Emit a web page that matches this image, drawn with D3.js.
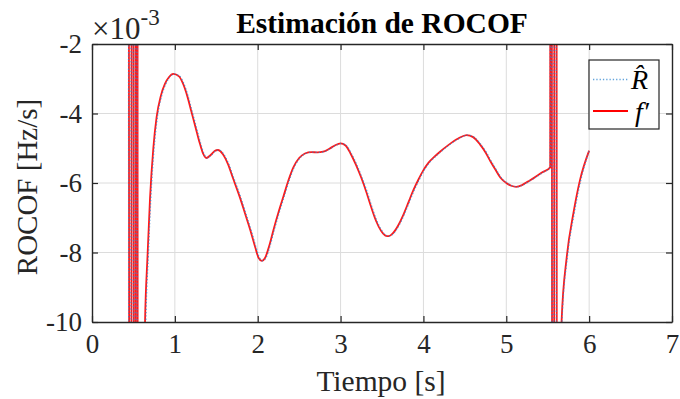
<!DOCTYPE html>
<html>
<head>
<meta charset="utf-8">
<script src="https://cdn.jsdelivr.net/npm/d3@7"></script>
<style>
  html, body { margin: 0; padding: 0; background: #fff; }
  svg { display: block; }
  text { font-family: "Liberation Serif", "Times New Roman", serif; fill: #262626; }
</style>
</head>
<body>
<svg id="chart" width="680" height="399"></svg>
<script>
// ROCOF estimate (R-hat) vs. frequency derivative f', values in units of 1e-3 Hz/s
const time = [0.435,0.465,0.49,0.515,0.545,0.555,0.60,0.62,
  0.64,0.67,0.70,0.74,0.78,0.83,0.88,0.93,0.98,
  1.05,1.10,1.15,1.20,1.25,1.30,1.34,1.38,1.43,1.48,1.52,
  1.58,1.64,1.70,1.79,1.85,1.91,1.97,2.01,2.05,2.09,2.14,2.19,2.25,2.31,2.37,2.43,2.50,2.57,2.65,2.72,2.79,2.86,2.93,3.00,
  3.06,3.12,3.19,3.25,3.31,3.37,3.43,3.49,3.55,3.58,3.63,3.70,3.76,3.82,3.88,3.94,4.00,
  4.06,4.13,4.20,4.30,4.42,4.52,4.60,4.68,4.75,4.81,4.87,4.93,5.00,5.06,5.12,5.19,5.26,5.33,5.43,5.53,
  5.535,5.565,5.595,5.62,5.65,5.667,5.73,5.81,5.89,6.00];

const fPrime = [50,-50,50,-50,50,-50,-20,-13,
  -10,-8.1,-6.45,-5.0,-4.1,-3.5,-3.15,-2.95,-2.86,
  -2.93,-3.15,-3.5,-3.95,-4.4,-4.85,-5.15,-5.28,-5.2,-5.08,-5.05,
  -5.17,-5.45,-5.85,-6.45,-6.9,-7.35,-7.85,-8.15,-8.24,-8.15,-7.8,-7.35,-6.85,-6.39,-5.93,-5.55,-5.28,-5.15,-5.11,-5.12,-5.1,-5.02,-4.92,-4.86,
  -4.92,-5.15,-5.5,-5.85,-6.25,-6.7,-7.1,-7.38,-7.52,-7.53,-7.45,-7.2,-6.9,-6.55,-6.2,-5.9,-5.63,
  -5.42,-5.25,-5.1,-4.91,-4.72,-4.62,-4.68,-4.88,-5.12,-5.38,-5.62,-5.85,-6.0,-6.08,-6.11,-6.06,-5.96,-5.86,-5.7,-5.55,
  50,-50,50,-50,-20,-10,-8.12,-6.87,-5.91,-5.07];

const timeR = [0.43,0.46,0.485,0.51,0.54,0.55,0.61,0.63,
  0.65,0.68,0.71,0.75,0.79,0.84,0.89,0.94,0.99,
  1.06,1.11,1.16,1.21,1.26,1.31,1.35,1.39,1.44,1.49,1.53,
  1.59,1.65,1.71,1.80,1.86,1.92,1.98,2.02,2.06,2.10,2.15,2.20,2.26,2.32,2.38,2.44,2.51,2.58,2.66,2.73,2.80,2.87,2.94,3.01,
  3.07,3.13,3.20,3.26,3.32,3.38,3.44,3.50,3.56,3.59,3.64,3.71,3.77,3.83,3.89,3.95,4.01,
  4.07,4.14,4.21,4.31,4.43,4.53,4.61,4.69,4.76,4.82,4.88,4.94,5.01,5.07,5.13,5.20,5.27,5.34,5.44,5.53,
  5.535,5.56,5.59,5.615,5.655,5.672,5.738,5.82,5.90,6.00];

const rHat = [50,-50,50,-50,50,-50,-20,-13,
  -10,-8.1,-6.45,-5.0,-4.1,-3.5,-3.15,-2.95,-2.86,
  -2.93,-3.15,-3.5,-3.95,-4.4,-4.85,-5.15,-5.28,-5.2,-5.08,-5.05,
  -5.17,-5.45,-5.85,-6.45,-6.9,-7.35,-7.85,-8.15,-8.24,-8.15,-7.8,-7.35,-6.85,-6.39,-5.93,-5.55,-5.28,-5.15,-5.11,-5.12,-5.1,-5.02,-4.92,-4.86,
  -4.92,-5.15,-5.5,-5.85,-6.25,-6.7,-7.1,-7.38,-7.52,-7.53,-7.45,-7.2,-6.9,-6.55,-6.2,-5.9,-5.63,
  -5.42,-5.25,-5.1,-4.91,-4.72,-4.62,-4.68,-4.88,-5.12,-5.38,-5.62,-5.85,-6.0,-6.08,-6.11,-6.06,-5.96,-5.86,-5.7,-5.55,
  50,-50,50,-50,-20,-10,-8.12,-6.87,-5.91,-5.07];

const xTicks = [0,1,2,3,4,5,6,7];
const yTicks = [-10,-8,-6,-4,-2];
const titleText = "Estimación de ROCOF";
const xLabel = "Tiempo [s]";
const yLabel = "ROCOF [Hz/s]";

const W = 680, H = 399;
const m = { left: 92, right: 8, top: 44, bottom: 77 };
const iw = W - m.left - m.right, ih = H - m.top - m.bottom;
const axisColor = "#262626";

const svg = d3.select("#chart");
const g = svg.append("g").attr("transform", `translate(${m.left},${m.top})`);

const x = d3.scaleLinear().domain([0, 7]).range([0, iw]);
const y = d3.scaleLinear().domain([-10, -2]).range([ih, 0]);

// grid
g.append("g").selectAll("line").data(xTicks.slice(1, -1)).join("line")
  .attr("x1", d => x(d)).attr("x2", d => x(d)).attr("y1", 0).attr("y2", ih)
  .attr("stroke", "#dcdcdc").attr("stroke-width", 1);
g.append("g").selectAll("line").data(yTicks.slice(1, -1)).join("line")
  .attr("y1", d => y(d)).attr("y2", d => y(d)).attr("x1", 0).attr("x2", iw)
  .attr("stroke", "#dcdcdc").attr("stroke-width", 1);

// data
g.append("clipPath").attr("id", "plotClip").append("rect")
  .attr("x", 0).attr("y", 0).attr("width", iw).attr("height", ih);
const plot = g.append("g").attr("clip-path", "url(#plotClip)");

const line = d3.line().x(d => x(d[0])).y(d => y(d[1])).curve(d3.curveMonotoneX);
const rData = timeR.map((t, i) => [t, rHat[i]]);
const fData = time.map((t, i) => [t, fPrime[i]]);

plot.append("path").datum(fData).attr("d", line)
  .attr("fill", "none").attr("stroke", "#ff0000").attr("stroke-width", 1.8).attr("stroke-opacity", 0.9);
plot.append("path").datum(rData).attr("d", line)
  .attr("fill", "none").attr("stroke", "#2f86d0").attr("stroke-width", 1.3)
  .attr("stroke-dasharray", "1.3,2").attr("stroke-opacity", 0.75);

// axes with inward ticks on all four sides
const tickLen = 6;
const fmt = d => String(d).replace("\u2212", "-");
const xb = g.append("g").attr("transform", `translate(0,${ih})`)
  .call(d3.axisBottom(x).tickValues(xTicks).tickSizeInner(-tickLen).tickSizeOuter(0).tickPadding(12).tickFormat(fmt));
const xt = g.append("g")
  .call(d3.axisTop(x).tickValues(xTicks).tickSizeInner(-tickLen).tickSizeOuter(0).tickFormat(""));
const yl = g.append("g")
  .call(d3.axisLeft(y).tickValues(yTicks).tickSizeInner(-tickLen).tickSizeOuter(0).tickPadding(10).tickFormat(fmt));
const yr = g.append("g").attr("transform", `translate(${iw},0)`)
  .call(d3.axisRight(y).tickValues(yTicks).tickSizeInner(-tickLen).tickSizeOuter(0).tickFormat(""));

[xb, xt, yl, yr].forEach(a => {
  a.select(".domain").attr("stroke", axisColor).attr("stroke-width", 1.4);
  a.selectAll(".tick line").attr("stroke", axisColor).attr("stroke-width", 1.2);
  a.selectAll(".tick text").attr("fill", axisColor)
    .style("font-family", '"Liberation Serif", serif').style("font-size", "27px");
});

// exponent marker
const ex = svg.append("text").attr("x", 92).attr("y", 39).style("font-size", "31px");
ex.append("tspan").text("\u00d710");
ex.append("tspan").attr("dy", -14).style("font-size", "23px").text("-3");

// title and labels
svg.append("text").attr("x", m.left + iw / 2).attr("y", 33).attr("text-anchor", "middle")
  .style("font-size", "29.5px").style("font-weight", "bold").style("fill", "#000").text(titleText);
svg.append("text").attr("x", m.left + iw / 2 - 1).attr("y", 391).attr("text-anchor", "middle")
  .style("font-size", "29.5px").text(xLabel);
svg.append("text").attr("transform", `translate(37,${m.top + ih / 2 + 4}) rotate(-90)`).attr("text-anchor", "middle")
  .style("font-size", "29px").text(yLabel);

// legend
const lg = svg.append("g").attr("transform", "translate(589,60)");
lg.append("rect").attr("width", 70).attr("height", 69)
  .attr("fill", "#fff").attr("stroke", axisColor).attr("stroke-width", 1.2);
lg.append("line").attr("x1", 4).attr("x2", 39).attr("y1", 19.5).attr("y2", 19.5)
  .attr("stroke", "#2f86d0").attr("stroke-width", 1.3).attr("stroke-dasharray", "1.3,2").attr("stroke-opacity", 0.75);
lg.append("line").attr("x1", 4).attr("x2", 39).attr("y1", 51).attr("y2", 51)
  .attr("stroke", "#ff0000").attr("stroke-width", 1.8);
lg.append("text").attr("x", 42).attr("y", 29).style("font-size", "28px").style("font-style", "italic").style("fill", "#000").text("R\u0302");
lg.append("text").attr("x", 46).attr("y", 61).style("font-size", "28px").style("font-style", "italic").style("fill", "#000").text("f\u2032");
</script>
</body>
</html>
